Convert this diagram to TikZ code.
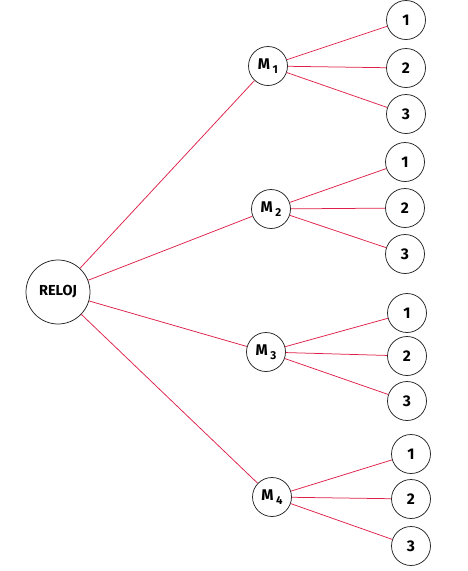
\documentclass[tikz,border=0pt]{standalone}
\usepackage{fontspec}
\setmainfont{Fira Sans}
\usepackage{xcolor}
\definecolor{linkred}{RGB}{222,32,72}
\newcommand{\msub}[1]{M\kern2.5pt\raisebox{-3.5pt}{\fontsize{11.5}{11.5}\selectfont #1}}

\begin{document}
\begin{tikzpicture}
	[x=1pt,y=-1pt,inner sep=0pt,
	root/.style={circle,draw=black!85,line width=0.75pt,minimum size=64pt,font=\fontsize{14.5}{14.5}\selectfont\bfseries},
	mid/.style={circle,draw=black!85,line width=0.75pt,minimum size=39pt,font=\fontsize{15.5}{15.5}\selectfont\bfseries},
	leaf/.style={circle,draw=black!85,line width=0.75pt,minimum size=39pt,font=\fontsize{15.5}{15.5}\selectfont\bfseries},
	link/.style={draw=linkred,line width=0.75pt}]
	\useasboundingbox (0,0) rectangle (467,571);
	\node [root] (reloj) at (58,292) {RELOJ};
	\node [mid] (m1) at (268,66) {\msub{1}};
	\node [mid] (m2) at (271,209) {\msub{2}};
	\node [mid] (m3) at (266,352) {\msub{3}};
	\node [mid] (m4) at (272,497) {\msub{4}};
	\node [leaf] (m1a) at (406,20) {1};
	\node [leaf] (m1b) at (406,68) {2};
	\node [leaf] (m1c) at (406,114) {3};
	\node [leaf] (m2a) at (405,162) {1};
	\node [leaf] (m2b) at (405,208) {2};
	\node [leaf] (m2c) at (405,254) {3};
	\node [leaf] (m3a) at (407,313) {1};
	\node [leaf] (m3b) at (407,356) {2};
	\node [leaf] (m3c) at (407,401) {3};
	\node [leaf] (m4a) at (411,454) {1};
	\node [leaf] (m4b) at (411,499) {2};
	\node [leaf] (m4c) at (411,546) {3};
	\draw [link] (reloj) -- (m1);
	\draw [link] (reloj) -- (m2);
	\draw [link] (reloj) -- (m3);
	\draw [link] (reloj) -- (m4);
	\draw [link] (m1) -- (m1a);
	\draw [link] (m1) -- (m1b);
	\draw [link] (m1) -- (m1c);
	\draw [link] (m2) -- (m2a);
	\draw [link] (m2) -- (m2b);
	\draw [link] (m2) -- (m2c);
	\draw [link] (m3) -- (m3a);
	\draw [link] (m3) -- (m3b);
	\draw [link] (m3) -- (m3c);
	\draw [link] (m4) -- (m4a);
	\draw [link] (m4) -- (m4b);
	\draw [link] (m4) -- (m4c);
\end{tikzpicture}
\end{document}
